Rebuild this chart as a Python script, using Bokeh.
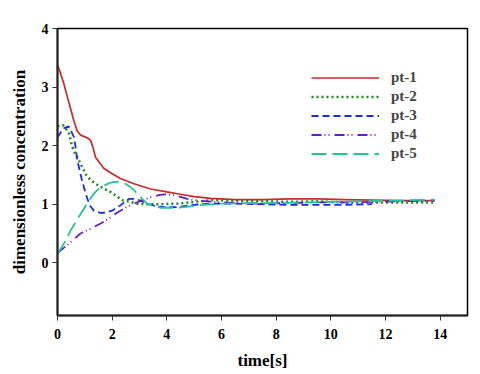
from bokeh.plotting import figure
from bokeh.models import Range1d, FixedTicker, Legend, LegendItem
from bokeh.embed import file_html
from bokeh.resources import INLINE

# pt-1
t1 = [0, 0.1, 0.23, 0.35, 0.48, 0.6, 0.72, 0.85, 1.0, 1.1, 1.21, 1.3, 1.39, 1.55, 1.7, 2.0, 2.3, 2.8,
      3.4, 4.0, 4.5, 5.0, 5.6, 6.5, 7.5, 8.5, 9.5, 10.5, 11.5, 12.5, 13.8]
c1 = [3.37, 3.25, 3.06, 2.85, 2.63, 2.42, 2.25, 2.18, 2.15, 2.13, 2.09, 1.97, 1.80, 1.70, 1.61, 1.52, 1.44, 1.35,
      1.26, 1.21, 1.17, 1.13, 1.10, 1.08, 1.08, 1.09, 1.09, 1.08, 1.07, 1.06, 1.06]
# pt-2
t2 = [0, 0.2, 0.41, 0.54, 0.66, 0.78, 0.92, 1.06, 1.2, 1.39, 1.65, 1.94, 2.15, 2.37, 2.65, 2.92, 3.3, 3.77,
      4.38, 5.0, 5.7, 6.5, 7.5, 8.5, 9.5, 10.5, 11.5, 12.5, 13.8]
c2 = [2.33, 2.35, 2.23, 1.98, 1.85, 1.75, 1.62, 1.49, 1.42, 1.35, 1.28, 1.21, 1.14, 1.07, 1.04, 1.01, 1.0, 1.0,
      1.01, 1.04, 1.07, 1.06, 1.05, 1.04, 1.05, 1.03, 1.03, 1.03, 1.03]
# pt-3
t3 = [0, 0.2, 0.41, 0.6, 0.66, 0.72, 0.88, 1.03, 1.18, 1.33, 1.58, 1.8, 2.0, 2.3, 2.61, 2.85, 3.04, 3.3,
      3.65, 4.0, 4.38, 5.0, 5.6, 6.5, 7.5, 8.5, 9.5, 10.5, 11.5]
c3 = [2.14, 2.29, 2.33, 2.15, 1.98, 1.76, 1.44, 1.18, 0.98, 0.89, 0.85, 0.86, 0.89, 0.98, 1.09, 1.09, 1.06, 1.01,
      0.96, 0.95, 0.95, 0.99, 1.01, 1.01, 1.0, 0.99, 0.99, 0.99, 1.0]
# pt-4
t4 = [0, 0.3, 0.6, 0.84, 1.2, 1.58, 1.9, 2.19, 2.45, 2.67, 3.0, 3.41, 3.75, 4.0, 4.4, 4.75, 5.2, 5.7,
      6.5, 7.5, 8.5, 9.5, 10.5, 11.5, 12.5, 13.8]
c4 = [0.17, 0.28, 0.4, 0.5, 0.58, 0.67, 0.76, 0.86, 0.93, 0.98, 1.05, 1.12, 1.16, 1.17, 1.14, 1.09, 1.06, 1.04,
      1.02, 1.01, 1.02, 1.03, 1.03, 1.04, 1.05, 1.06]
# pt-5
t5 = [0, 0.25, 0.48, 0.72, 0.96, 1.15, 1.33, 1.5, 1.7, 1.9, 2.06, 2.25, 2.49, 2.65, 2.8, 2.92, 3.1, 3.28,
      3.5, 3.77, 4.1, 4.38, 4.8, 5.3, 6.0, 7.0, 8.0, 9.0, 10.0, 11.0, 12.0, 13.0, 13.8]
c5 = [0.15, 0.34, 0.55, 0.74, 0.92, 1.06, 1.18, 1.26, 1.32, 1.36, 1.38, 1.38, 1.35, 1.3, 1.24, 1.18, 1.09, 1.01,
      0.97, 0.94, 0.94, 0.94, 0.96, 0.99, 1.01, 1.02, 1.02, 1.03, 1.04, 1.05, 1.06, 1.07, 1.08]

labels = ["pt-1", "pt-2", "pt-3", "pt-4", "pt-5"]
x_ticks = [0, 2, 4, 6, 8, 10, 12, 14]
y_ticks = [0, 1, 2, 3, 4]

FONT = "Liberation Serif"

p = figure(width=472, height=374, output_backend="svg", toolbar_location=None,
           x_range=Range1d(0, 15), y_range=Range1d(-0.9, 4.0),
           min_border_left=57, min_border_top=28, min_border_right=5, min_border_bottom=59)
p.grid.visible = False
p.outline_line_color = "black"
p.outline_line_width = 1.5

for ax in (p.xaxis[0], p.yaxis[0]):
    ax.axis_line_width = 2
    ax.axis_line_color = "#222222"
    ax.major_tick_line_color = "#333333"
    ax.major_tick_out = 5
    ax.major_tick_in = 0
    ax.minor_tick_line_color = None
    ax.major_label_text_font = FONT
    ax.major_label_text_font_style = "bold"
    ax.major_label_text_font_size = "14px"
    ax.major_label_text_color = "black"
    ax.axis_label_text_font = FONT
    ax.axis_label_text_font_style = "bold"
    ax.axis_label_text_font_size = "17px"
    ax.axis_label_text_color = "black"

p.xaxis[0].ticker = FixedTicker(ticks=x_ticks)
p.yaxis[0].ticker = FixedTicker(ticks=y_ticks)
p.xaxis[0].axis_label = "time[s]"
p.yaxis[0].axis_label = "dimensionless concentration"
p.xaxis[0].major_label_standoff = 8
p.xaxis[0].axis_label_standoff = 9
p.yaxis[0].major_label_standoff = 4
p.yaxis[0].axis_label_standoff = 10

r1 = p.line(t1, c1, line_color="#d02828", line_width=1.7)
r2 = p.line(t2, c2, line_color="#1a8a1a", line_width=2.5, line_dash="2 3")
r3 = p.line(t3, c3, line_color="#1a2aff", line_width=1.8, line_dash="7 4")
r4 = p.line(t4, c4, line_color="#6a1ad0", line_width=1.8, line_dash="10 3 1 3 1 5")
r5 = p.line(t5, c5, line_color="#20c898", line_width=1.8, line_dash="15 6")

legend = Legend(items=[LegendItem(label=l, renderers=[r]) for l, r in zip(labels, [r1, r2, r3, r4, r5])],
                location=(254, 153), padding=0, margin=0, spacing=2,
                glyph_width=68, glyph_height=15, label_height=15, label_standoff=12,
                border_line_color=None, background_fill_alpha=0,
                label_text_font=FONT, label_text_font_style="bold", label_text_font_size="15px",
                label_text_baseline="middle")
p.add_layout(legend)

open("out.html", "w").write(file_html(p, INLINE))
